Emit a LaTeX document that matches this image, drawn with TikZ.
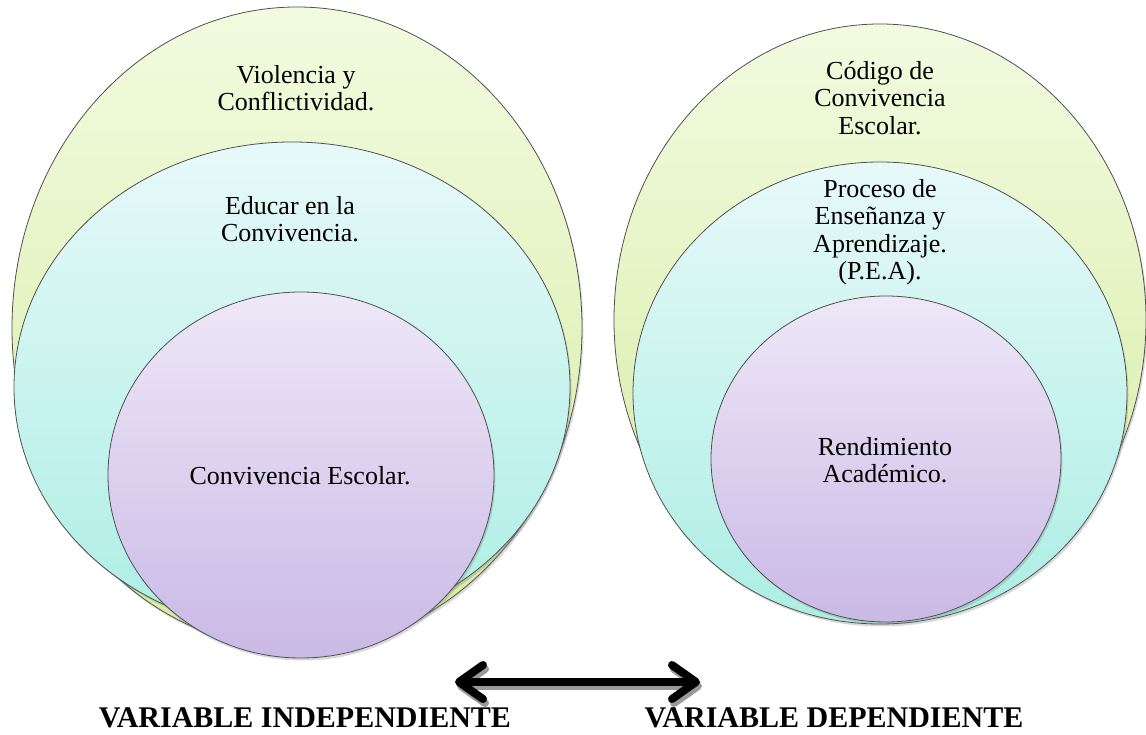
\documentclass[tikz,border=0pt]{standalone}
\usepackage{fontspec}
\setmainfont{Liberation Serif}
\newfontfamily\timesfam{Liberation Serif}
\usetikzlibrary{arrows.meta,shadows}
\definecolor{gtop}{RGB}{242,251,224}
\definecolor{gbot}{RGB}{214,236,162}
\definecolor{ctop}{RGB}{231,249,249}
\definecolor{cbot}{RGB}{172,238,228}
\definecolor{ptop}{RGB}{238,232,247}
\definecolor{pbot}{RGB}{202,185,230}
\definecolor{edge}{RGB}{80,80,80}
\tikzset{
  layer/.style={draw=edge, line width=0.8pt,
    drop shadow={opacity=0.3, shadow xshift=1.5pt, shadow yshift=-2.5pt}},
  greenlayer/.style={layer, top color=gtop, bottom color=gbot},
  cyanlayer/.style={layer, top color=ctop, bottom color=cbot},
  purplelayer/.style={layer, top color=ptop, bottom color=pbot},
  lbl/.style={align=center, font=\timesfam\fontsize{26}{27.5}\selectfont, inner sep=0pt},
  varlbl/.style={font=\timesfam\fontsize{30}{32}\selectfont\bfseries, inner sep=0pt},
  bigarrow/.style={line width=8pt, black,
    {Straight Barb[length=24pt,width=34pt,line cap=round,line join=round]}-{Straight Barb[length=24pt,width=34pt,line cap=round,line join=round]}},
  arrowshadow/.style={bigarrow, black!40}
}
\begin{document}
\begin{tikzpicture}[x=1pt,y=-1pt]
\useasboundingbox (0,0) rectangle (1146,735);
% left group
\path[greenlayer] (297,328) ellipse [x radius=285, y radius=321];
\path[cyanlayer] (292,387) ellipse [x radius=278, y radius=245];
\path[purplelayer] (301,475) ellipse [x radius=193, y radius=183];
\node[lbl] (l1) at (296,88) {Violencia y\\Conflictividad.};
\node[lbl] (l2) at (290,219) {Educar en la\\Convivencia.};
\node[lbl] (l3) at (300,476) {Convivencia Escolar.};
% right group
\path[greenlayer] (880,320) ellipse [x radius=266, y radius=296];
\path[cyanlayer] (880,393) ellipse [x radius=247, y radius=231];
\path[purplelayer] (886,459) ellipse [x radius=175, y radius=163];
\node[lbl] (r1) at (880,98) {Código de\\Convivencia\\Escolar.};
\node[lbl] (r2) at (880,232) {Proceso de\\Enseñanza y\\Aprendizaje.\\(P.E.A).};
\node[lbl] (r3) at (885,460) {Rendimiento\\Académico.};
% arrow
\coordinate (al) at (455,682);
\coordinate (ar) at (700,682);
\coordinate (als) at (457,686);
\coordinate (ars) at (702,686);
\draw[arrowshadow] (als) -- (ars);
\draw[bigarrow] (al) -- (ar);
\node[varlbl] (vi) at (305,718) {VARIABLE INDEPENDIENTE};
\node[varlbl] (vd) at (834,718) {VARIABLE DEPENDIENTE};
\end{tikzpicture}
\end{document}
